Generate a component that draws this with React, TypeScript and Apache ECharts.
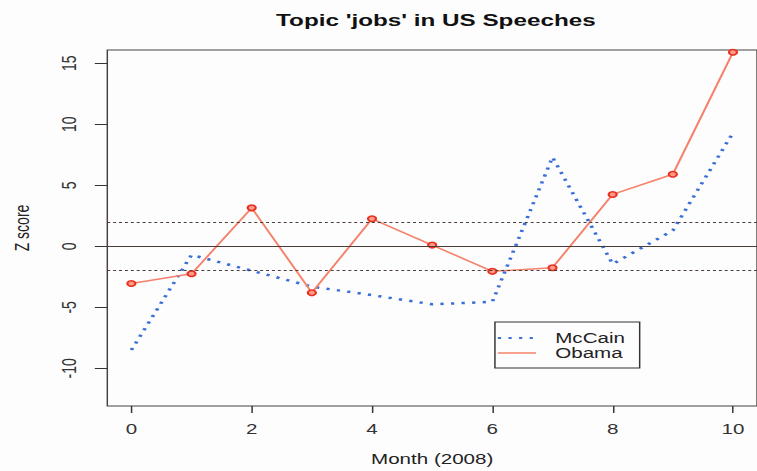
import React, { useEffect, useRef } from "react";
import * as echarts from "echarts";

// Month index within 2008
const months = [0, 1, 2, 3, 4, 5, 6, 7, 8, 9, 10];
// Z scores of the topic 'jobs' per candidate
const mccain = [-8.5, -0.7, -2.0, -3.3, -4.0, -4.75, -4.55, 7.3, -1.45, 1.3, 9.3];
const obama = [-3.05, -2.25, 3.15, -3.8, 2.25, 0.1, -2.05, -1.75, 4.25, 5.9, 15.9];

const xTicks = [0, 2, 4, 6, 8, 10];
const yTicks = [-10, -5, 0, 5, 10, 15];
// significance band and zero line
const bandLevel = 1.96;

// the chart is laid out narrow and widened horizontally as a whole
const STRETCH = 1.47;
const BASE_W = 757 / STRETCH;
const FONT = "'Liberation Sans', Arial, sans-serif";

export default function App() {
  const ref = useRef<HTMLDivElement>(null);

  useEffect(() => {
    if (!ref.current) return;
    const chart = echarts.init(ref.current, undefined, { renderer: "svg" });
    const refLine = (y: number, dashed: boolean) => ({
      yAxis: y,
      lineStyle: {
        color: "#4a3c38",
        width: 1,
        type: dashed ? [2, 2] : "solid",
      },
    });
    chart.setOption({
      animation: false,
      backgroundColor: "#fdfdfe",
      title: {
        text: "Topic 'jobs' in US Speeches",
        left: 296.5,
        top: 12,
        padding: 0,
        textAlign: "center",
        textStyle: { fontFamily: FONT, fontSize: 16.5, fontWeight: "bold", color: "#111" },
      },
      grid: {
        left: 69.7,
        top: 50,
        width: 451.1,
        height: 359,
        show: true,
        borderColor: "#4a4040",
        borderWidth: 1,
        backgroundColor: "transparent",
      },
      legend: {
        orient: "vertical",
        left: 336.7,
        top: 322,
        padding: [9, 10, 8, 1],
        borderColor: "#333",
        borderWidth: 1,
        itemWidth: 26,
        itemHeight: 14,
        itemGap: 1,
        itemStyle: { opacity: 0 },
        textStyle: { fontFamily: FONT, fontSize: 14, color: "#222", padding: [0, 0, 0, 8] },
        data: [
          { name: "McCain", lineStyle: { width: 2 } },
          { name: "Obama", lineStyle: { width: 1.5 } },
        ],
      },
      xAxis: {
        type: "value",
        min: -0.4,
        max: 10.4,
        name: "Month (2008)",
        nameLocation: "middle",
        nameGap: 46,
        nameTextStyle: { fontFamily: FONT, fontSize: 14, color: "#222" },
        axisLine: { show: false, onZero: false },
        axisTick: { show: true, length: 7, customValues: xTicks, lineStyle: { color: "#333" } },
        axisLabel: {
          customValues: xTicks,
          margin: 16,
          fontFamily: FONT,
          fontSize: 14,
          color: "#333",
        },
        splitLine: { show: false },
      },
      yAxis: {
        type: "value",
        min: -13.08,
        max: 16.08,
        name: "Z score",
        nameLocation: "middle",
        nameGap: 51,
        nameTextStyle: { fontFamily: FONT, fontSize: 14, color: "#222" },
        axisLine: { show: false, onZero: false },
        axisTick: { show: true, length: 8.5, customValues: yTicks, lineStyle: { color: "#333" } },
        axisLabel: {
          customValues: yTicks,
          rotate: 90,
          margin: 19,
          fontFamily: FONT,
          fontSize: 14,
          color: "#333",
        },
        splitLine: { show: false },
      },
      series: [
        {
          name: "McCain",
          type: "line",
          data: months.map((m, i) => [m, mccain[i]]),
          symbol: "none",
          lineStyle: { color: "#3a6fd6", width: 2.5, type: [2.2, 5] },
          itemStyle: { color: "#3a6fd6" },
          z: 3,
        },
        {
          name: "Obama",
          type: "line",
          data: months.map((m, i) => [m, obama[i]]),
          symbol: "circle",
          symbolSize: 5.5,
          lineStyle: { color: "#f5826a", width: 1.5 },
          itemStyle: { color: "#ff9a88", borderColor: "#e8301e", borderWidth: 1.5 },
          z: 4,
          markLine: {
            silent: true,
            symbol: "none",
            label: { show: false },
            data: [refLine(bandLevel, true), refLine(0, false), refLine(-bandLevel, true)],
          },
        },
      ],
    });
    return () => chart.dispose();
  }, []);

  return (
    <div
      style={{
        position: "fixed",
        left: 0,
        top: 0,
        width: 757,
        height: 471,
        overflow: "hidden",
        background: "#fdfdfe",
      }}
    >
      <div
        ref={ref}
        style={{
          width: BASE_W,
          height: 471,
          transform: `scaleX(${STRETCH})`,
          transformOrigin: "0 0",
        }}
      />
    </div>
  );
}
